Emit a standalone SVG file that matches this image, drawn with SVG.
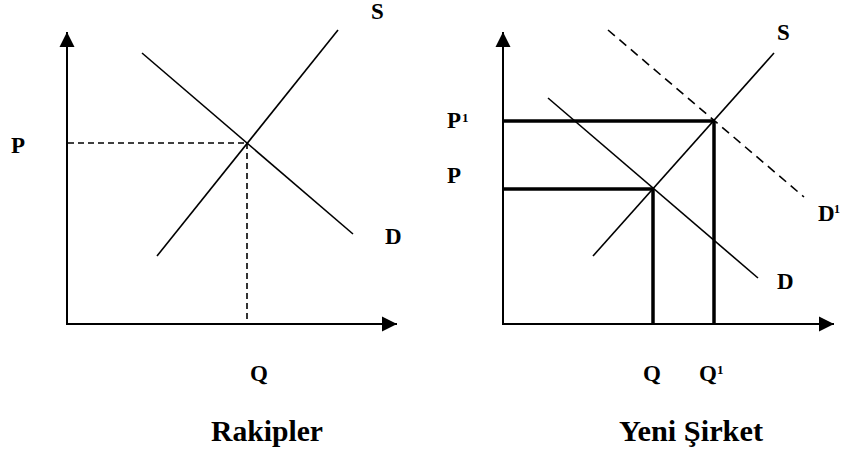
<svg xmlns="http://www.w3.org/2000/svg" width="842" height="456" viewBox="0 0 842 456">
<style>
.lbl{font-family:"Liberation Serif","Times New Roman",serif;font-weight:bold;font-size:23px;fill:#000}
.sup{font-family:"Liberation Serif","Times New Roman",serif;font-weight:bold;font-size:13px;fill:#000}
.ttl{font-family:"Liberation Serif","Times New Roman",serif;font-weight:bold;font-size:30px;fill:#000}
.axis{stroke:#000;stroke-width:2;fill:none}
.curve{stroke:#000;stroke-width:1.6;fill:none}
.dash{stroke:#000;stroke-width:1.6;fill:none;stroke-dasharray:6,4}
.dash2{stroke:#000;stroke-width:1.6;fill:none;stroke-dasharray:9,6}
.thick{stroke:#000;stroke-width:3.5;fill:none}
</style>
<defs>
<marker id="arr" markerUnits="userSpaceOnUse" markerWidth="16" markerHeight="16" viewBox="0 0 16 16" refX="15" refY="8" orient="auto">
<path d="M0,0.5 L15,8 L0,15.5 Z" fill="#000"/>
</marker>
</defs>
<rect width="842" height="456" fill="#fff"/>
<g id="connectors">
<line class="axis" x1="67" y1="324" x2="67" y2="32" marker-end="url(#arr)"/>
<line class="axis" x1="66" y1="324" x2="397" y2="324" marker-end="url(#arr)"/>
<line class="curve" x1="157" y1="256" x2="338" y2="30"/>
<line class="curve" x1="142" y1="53" x2="353" y2="234"/>
<line class="dash" x1="68" y1="143" x2="247" y2="143"/>
<line class="dash" x1="247" y1="143" x2="247" y2="323"/>
<line class="axis" x1="503" y1="324" x2="503" y2="32" marker-end="url(#arr)"/>
<line class="axis" x1="502" y1="324" x2="834" y2="324" marker-end="url(#arr)"/>
<line class="curve" x1="593" y1="256" x2="774" y2="53"/>
<line class="curve" x1="548" y1="98" x2="758" y2="278"/>
<line class="dash2" x1="608" y1="30" x2="804" y2="197"/>
<line class="thick" x1="503" y1="121" x2="714" y2="121"/>
<line class="thick" x1="714" y1="121" x2="714" y2="324"/>
<line class="thick" x1="503" y1="189" x2="653" y2="189"/>
<line class="thick" x1="653" y1="189" x2="653" y2="324"/>
</g>
<g id="left-labels">
<text class="lbl" x="11" y="153">P</text>
<text class="lbl" x="371" y="19">S</text>
<text class="lbl" x="385" y="244">D</text>
<text class="lbl" x="250" y="381">Q</text>
<text class="ttl" x="211" y="441" textLength="112" lengthAdjust="spacingAndGlyphs">Rakipler</text>
</g>
<g id="right-labels">
<text class="lbl" x="447" y="128">P</text>
<text class="sup" x="462" y="122">1</text>
<text class="lbl" x="447" y="183">P</text>
<text class="lbl" x="777" y="40">S</text>
<text class="lbl" x="818" y="221">D</text>
<text class="sup" x="834" y="213" style="font-size:12px">1</text>
<text class="lbl" x="777" y="289">D</text>
<text class="lbl" x="643" y="381">Q</text>
<text class="lbl" x="699" y="381">Q</text>
<text class="sup" x="717" y="374">1</text>
<text class="ttl" x="619" y="441" textLength="144" lengthAdjust="spacingAndGlyphs">Yeni Şirket</text>
</g>
</svg>
